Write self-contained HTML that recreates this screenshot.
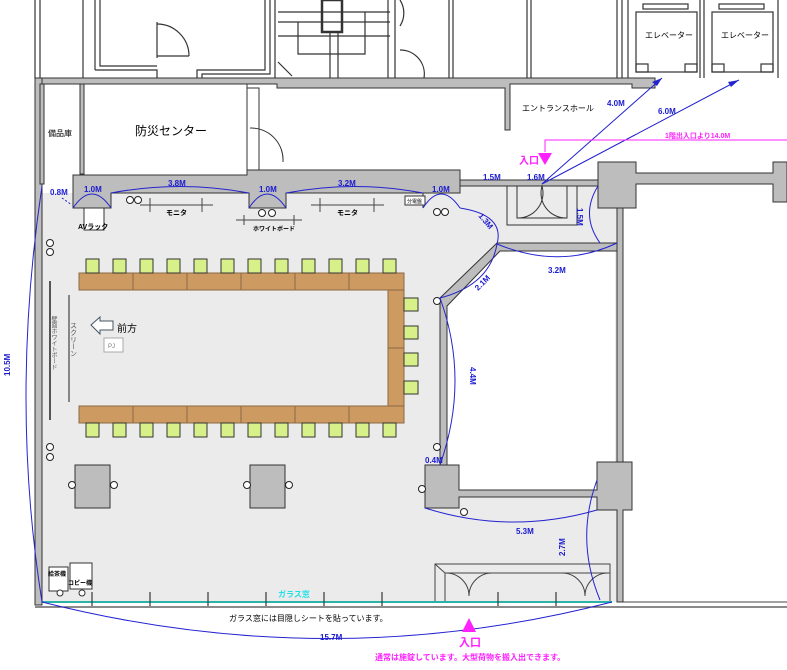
<!DOCTYPE html>
<html><head><meta charset="utf-8"><style>
html,body{margin:0;padding:0;background:#fff}
svg{display:block}
text{font-family:"Liberation Sans","Noto Sans CJK JP",sans-serif}
.b{fill:#1a1ad0;font-size:8px;font-weight:bold}
.k{fill:#000;font-size:8px}
</style></head><body>
<svg width="787" height="670" viewBox="0 0 787 670" xmlns="http://www.w3.org/2000/svg">
<rect x="460" y="186" width="157" height="60" fill="#ebebeb"/>
<rect x="42" y="193" width="575" height="409" fill="#ebebeb"/>
<polygon points="447,300 500,251 615,251 615,462 597,462 597,490 459,490 459,465 447,465" fill="#fff"/>
<g stroke="#333" stroke-width="1.2" fill="none">
<line x1="35" y1="0" x2="35" y2="78"/><line x1="40" y1="0" x2="40" y2="78"/>
<line x1="83" y1="0" x2="83" y2="78"/><line x1="95" y1="0" x2="95" y2="70"/>
<path d="M95,70 H157 V78"/><path d="M100,0 V66 H157"/>
<line x1="157" y1="22" x2="157" y2="58"/><path d="M157,24 A32,32 0 0 1 189,56" /><line x1="157" y1="56" x2="189" y2="56"/>
<path d="M197,78 V70 H265 V0"/><path d="M202,78 V74 H270 V0"/>
<line x1="275" y1="0" x2="275" y2="78"/>
<line x1="278" y1="12" x2="390" y2="12"/><line x1="278" y1="22" x2="390" y2="22"/><line x1="278" y1="36" x2="390" y2="36"/>
<path d="M298,22 V54 H365 V12"/>
<rect x="322" y="0" width="20" height="32" stroke-width="2.5"/>
<line x1="330" y1="32" x2="330" y2="78"/><line x1="338" y1="32" x2="338" y2="78"/>
<line x1="278" y1="62" x2="292" y2="76"/>
<line x1="388" y1="0" x2="388" y2="78"/><line x1="395" y1="0" x2="395" y2="78"/>
<path d="M400,0 A24,24 0 0 1 400,26"/><path d="M400,50 A24,24 0 0 1 424,78"/>
<line x1="449" y1="0" x2="449" y2="78"/><line x1="453" y1="0" x2="453" y2="78"/>
<line x1="527" y1="0" x2="527" y2="78"/><line x1="531" y1="0" x2="531" y2="78"/>
<line x1="617" y1="0" x2="617" y2="78"/><line x1="622" y1="0" x2="622" y2="78"/>
<line x1="628" y1="0" x2="628" y2="78"/><line x1="700" y1="0" x2="700" y2="78"/><line x1="704" y1="0" x2="704" y2="78"/>
<line x1="778" y1="0" x2="778" y2="78"/>
<rect x="636" y="12" width="61" height="60"/><rect x="712" y="12" width="61" height="60"/>
<rect x="643" y="4" width="45" height="5"/><rect x="719" y="4" width="45" height="5"/>
<rect x="636" y="64" width="12" height="8"/><rect x="685" y="64" width="12" height="8"/>
<rect x="712" y="64" width="12" height="8"/><rect x="761" y="64" width="12" height="8"/>
</g>
<g fill="#bdbdbd" stroke="#333" stroke-width="1">
<path d="M35,78 H400 V78 H655 V88 H632 V84 H510 V130 H505 V88 H277 V84 H35 Z"/>
<rect x="35" y="78" width="7" height="527"/>
<rect x="40" y="84" width="4" height="100"/>
<rect x="80" y="84" width="4" height="90"/>
<polygon points="73,175 247,175 247,170 425,170 460,170 460,193 423,193 423,208 423,193 286,193 286,208 249,208 249,193 111,193 111,208 73,208"/>
<rect x="460" y="180" width="138" height="6"/>
<polygon points="598,162 636,162 636,173 773,173 773,162 787,162 787,202 773,202 773,184 636,184 636,208 598,208"/>
<polygon points="440,298 497,243 617,243 617,251 500,251 447,306 447,465 440,465"/>
<rect x="617" y="208" width="6" height="254"/>
<polygon points="425,465 459,465 459,490 597,490 597,462 632,462 632,510 623,510 623,602 617,602 617,510 597,510 597,497 459,497 459,508 425,508"/>
<rect x="75" y="465" width="35" height="43"/><rect x="250" y="465" width="35" height="43"/>
</g>
<rect x="247" y="88" width="12" height="82" fill="#fff" stroke="#333"/>
<path d="M250,128 A32,32 0 0 1 283,162" fill="none" stroke="#333"/>
<rect x="84" y="84" width="163" height="91" fill="#fff" stroke="#333"/>
<text x="135" y="135" font-size="12">防災センター</text>
<text x="48" y="136" class="k" font-size="7">備品庫</text>
<text x="522" y="111" class="k">エントランスホール</text>
<text x="645" y="38" class="k" font-size="7">エレベーター</text>
<text x="721" y="38" class="k" font-size="7">エレベーター</text>
<g stroke="#333" fill="none">
<path d="M507,186 V225 H577 V186"/><path d="M517,186 V218 H567 V186"/>
<path d="M517,218 A25,25 0 0 0 542,186 A25,25 0 0 0 567,218"/>
</g>
<g fill="#cd9a62" stroke="#8a6a45" stroke-width="1">
<rect x="79" y="273" width="54" height="17"/><rect x="133" y="273" width="54" height="17"/><rect x="187" y="273" width="54" height="17"/><rect x="241" y="273" width="54" height="17"/><rect x="295" y="273" width="54" height="17"/><rect x="349" y="273" width="55" height="17"/>
<rect x="79" y="406" width="54" height="17"/><rect x="133" y="406" width="54" height="17"/><rect x="187" y="406" width="54" height="17"/><rect x="241" y="406" width="54" height="17"/><rect x="295" y="406" width="54" height="17"/><rect x="349" y="406" width="55" height="17"/>
<rect x="388" y="290" width="16" height="58"/><rect x="388" y="348" width="16" height="58"/>
</g>
<g fill="#d8f08a" stroke="#333" stroke-width="1">
<rect x="86" y="259" width="13" height="14"/><rect x="113" y="259" width="13" height="14"/><rect x="140" y="259" width="13" height="14"/><rect x="167" y="259" width="13" height="14"/><rect x="194" y="259" width="13" height="14"/><rect x="221" y="259" width="13" height="14"/><rect x="248" y="259" width="13" height="14"/><rect x="275" y="259" width="13" height="14"/><rect x="302" y="259" width="13" height="14"/><rect x="329" y="259" width="13" height="14"/><rect x="356" y="259" width="13" height="14"/><rect x="383" y="259" width="13" height="14"/>
<rect x="86" y="423" width="13" height="14"/><rect x="113" y="423" width="13" height="14"/><rect x="140" y="423" width="13" height="14"/><rect x="167" y="423" width="13" height="14"/><rect x="194" y="423" width="13" height="14"/><rect x="221" y="423" width="13" height="14"/><rect x="248" y="423" width="13" height="14"/><rect x="275" y="423" width="13" height="14"/><rect x="302" y="423" width="13" height="14"/><rect x="329" y="423" width="13" height="14"/><rect x="356" y="423" width="13" height="14"/><rect x="383" y="423" width="13" height="14"/>
<rect x="404" y="298" width="14" height="13"/><rect x="404" y="326" width="14" height="13"/><rect x="404" y="353" width="14" height="13"/><rect x="404" y="381" width="14" height="13"/>
</g>
<line x1="50" y1="281" x2="50" y2="420" stroke="#555" stroke-width="2"/>
<line x1="69" y1="295" x2="69" y2="402" stroke="#222" stroke-width="1"/>
<text x="53" y="316" font-size="6" fill="#555" writing-mode="tb">壁面ホワイトボード</text>
<text x="73" y="322" font-size="7" fill="#555" writing-mode="tb">スクリーン</text>
<polygon points="91,325 100,317 100,321 113,321 113,330 100,330 100,334" fill="#fff" stroke="#456" stroke-width="1"/>
<text x="117" y="332" font-size="10">前方</text>
<rect x="104" y="338" width="19" height="14" fill="#fff" stroke="#aaa"/>
<text x="108" y="348" font-size="6" fill="#777">PJ</text>
<g fill="#fff" stroke="#222" stroke-width="1">
<circle cx="50" cy="243" r="3.5"/><circle cx="50" cy="252" r="3.5"/><circle cx="50" cy="447" r="3.5"/><circle cx="50" cy="457" r="3.5"/>
<circle cx="72" cy="485" r="3.5"/><circle cx="114" cy="485" r="3.5"/><circle cx="247" cy="485" r="3.5"/><circle cx="289" cy="485" r="3.5"/>
<circle cx="437" cy="301" r="3.5"/><circle cx="437" cy="447" r="3.5"/><circle cx="422" cy="489" r="3.5"/><circle cx="464" cy="512" r="3.5"/>
<circle cx="130" cy="200" r="3.5"/><circle cx="138" cy="200" r="3.5"/><circle cx="262" cy="213" r="3.5"/><circle cx="272" cy="213" r="3.5"/>
<circle cx="437" cy="212" r="3.5"/><circle cx="445" cy="212" r="3.5"/><circle cx="92" cy="213" r="3.5"/>
</g>
<rect x="84" y="208" width="20" height="22" fill="#fff" stroke="#333"/>
<text x="78" y="229" font-size="7" font-weight="bold">AVラック</text>
<g stroke="#444" fill="none"><line x1="140" y1="205" x2="213" y2="205"/><line x1="150" y1="198" x2="150" y2="212"/><line x1="202" y1="198" x2="202" y2="212"/>
<line x1="311" y1="205" x2="384" y2="205"/><line x1="320" y1="198" x2="320" y2="212"/><line x1="374" y1="198" x2="374" y2="212"/>
<line x1="236" y1="220" x2="302" y2="220"/><line x1="244" y1="215" x2="244" y2="225"/><line x1="294" y1="215" x2="294" y2="225"/></g>
<text x="166" y="215" font-size="7" font-weight="bold">モニタ</text><text x="337" y="215" font-size="7" font-weight="bold">モニタ</text>
<text x="253" y="231" font-size="6" font-weight="bold">ホワイトボード</text>
<rect x="405" y="196" width="20" height="9" fill="#fff" stroke="#333"/><text x="407" y="203" font-size="5">分電盤</text>
<rect x="49" y="567" width="19" height="24" fill="#fff" stroke="#333"/><rect x="70" y="563" width="22" height="26" fill="#fff" stroke="#333"/>
<text x="48" y="576" font-size="6" font-weight="bold">給茶機</text><text x="68" y="585" font-size="6" font-weight="bold">コピー機</text>
<circle cx="60" cy="593" r="3" fill="#fff" stroke="#333"/><circle cx="82" cy="593" r="3" fill="#fff" stroke="#333"/>
<g stroke="#444" fill="none"><path d="M435,602 V564 H610 V602"/><path d="M445,602 V573 H610"/><line x1="435" y1="564" x2="445" y2="573"/>
<path d="M446,573 A23,23 0 0 1 469,596 A23,23 0 0 1 492,573"/><path d="M562,573 A23,23 0 0 1 585,596 A23,23 0 0 1 608,573"/></g>
<line x1="35" y1="607" x2="787" y2="607" stroke="#444" stroke-width="1.3"/>
<line x1="623" y1="602" x2="787" y2="602" stroke="#444"/>
<line x1="42" y1="602" x2="612" y2="602" stroke="#2bb3a8" stroke-width="2"/>
<g stroke="#444" stroke-width="1.3"><line x1="92" y1="592" x2="92" y2="606"/><line x1="150" y1="592" x2="150" y2="606"/><line x1="208" y1="592" x2="208" y2="606"/><line x1="266" y1="592" x2="266" y2="606"/><line x1="324" y1="592" x2="324" y2="606"/><line x1="382" y1="592" x2="382" y2="606"/><line x1="498" y1="592" x2="498" y2="606"/><line x1="556" y1="592" x2="556" y2="606"/></g>
<text x="278" y="597" font-size="8" font-weight="bold" fill="#22e0e8">ガラス窓</text>
<text x="229" y="621" font-size="8">ガラス窓には目隠しシートを貼っています。</text>
<g stroke="#2323d0" stroke-width="1" fill="none">
<path d="M42,186 Q10,400 42,602"/>
<path d="M42,602 Q330,675 612,602"/>
<path d="M73,208 Q92,180 111,208"/><path d="M249,208 Q267,180 286,208"/><path d="M423,208 Q441,180 460,208"/>
<path d="M111,193 Q180,180 249,193"/><path d="M286,193 Q355,180 423,193"/>
<path d="M460,208 Q505,215 497,244"/><path d="M497,244 Q560,270 617,243"/>
<path d="M440,298 Q490,285 497,244"/><path d="M440,298 Q470,380 440,465"/>
<path d="M598,186 Q580,215 600,243"/>
<path d="M425,508 Q510,535 597,510"/><path d="M597,480 Q575,540 600,600"/>
<line x1="542" y1="184" x2="662" y2="78"/><line x1="542" y1="184" x2="739" y2="80"/>
<line x1="62" y1="198" x2="72" y2="205" stroke-dasharray="2,2"/>
</g>
<polygon points="662,78 652,82 657,86" fill="#2323d0"/><polygon points="739,80 728,82 731,87" fill="#2323d0"/>
<text x="10" y="376" class="b" transform="rotate(-90 10 376)">10.5M</text>
<text x="50" y="195" class="b">0.8M</text><text x="84" y="192" class="b">1.0M</text><text x="168" y="186" class="b">3.8M</text>
<text x="259" y="192" class="b">1.0M</text><text x="338" y="186" class="b">3.2M</text><text x="432" y="192" class="b">1.0M</text>
<text x="483" y="180" class="b">1.5M</text><text x="527" y="180" class="b">1.6M</text>
<text x="607" y="106" class="b">4.0M</text><text x="658" y="114" class="b">6.0M</text>
<text x="478" y="216" class="b" transform="rotate(50 478 216)">1.3M</text>
<text x="577" y="208" class="b" transform="rotate(90 577 208)">1.5M</text>
<text x="548" y="273" class="b">3.2M</text>
<text x="478" y="291" class="b" transform="rotate(-45 478 291)">2.1M</text>
<text x="470" y="367" class="b" transform="rotate(90 470 367)">4.4M</text>
<text x="425" y="463" class="b">0.4M</text><text x="516" y="534" class="b">5.3M</text>
<text x="580" y="541" class="b" transform="rotate(-90 580 556)">2.7M</text>
<text x="320" y="640" class="b">15.7M</text>
<path d="M545,152 V140 H787" stroke="#ff22ff" fill="none"/>
<polygon points="538,153 552,153 545,165" fill="#ff22ff"/>
<text x="519" y="164" font-size="10" font-weight="bold" fill="#ff22ff">入口</text>
<text x="665" y="138" font-size="7" font-weight="bold" fill="#ff22ff">1階出入口より14.0M</text>
<polygon points="469,618 476,632 462,632" fill="#ff22ff"/>
<text x="459" y="646" font-size="11" font-weight="bold" fill="#ff22ff">入口</text>
<text x="375" y="660" font-size="8" font-weight="bold" fill="#ff22ff">通常は施錠しています。大型荷物を搬入出できます。</text>
</svg>
</body></html>
